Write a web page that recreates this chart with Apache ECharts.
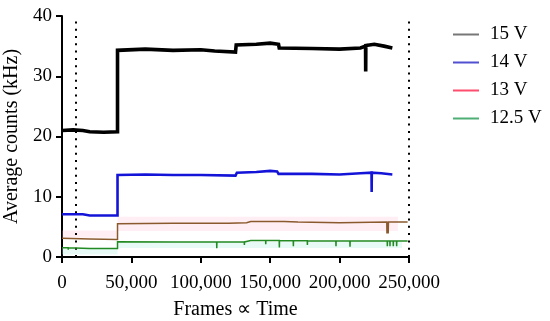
<!DOCTYPE html>
<html>
<head>
<meta charset="utf-8">
<script src="https://cdn.jsdelivr.net/npm/echarts@6/dist/echarts.min.js"></script>
<style>html,body{margin:0;padding:0;background:#fff;}#c{width:550px;height:321px;}</style>
</head>
<body>
<div id="c"></div>
<script>
// ---- data (x = frames, y = average counts in kHz) ----
var seriesNames = ['15 V', '14 V', '13 V', '12.5 V'];
var xTicks = [0, 50000, 100000, 150000, 200000, 250000];
var yTicks = [0, 10, 20, 30, 40];
var markerFrames = [10000, 250000];

var v15 = [[0,21.0],[8000,21.1],[15000,21.0],[20000,20.8],[30000,20.7],[40000,20.8],[40000,34.3],[60000,34.5],[80000,34.3],[100000,34.4],[110000,34.2],[125000,34.0],[125500,35.2],[140000,35.3],[150000,35.5],[156000,35.3],[156500,34.7],[180000,34.6],[200000,34.5],[215000,34.7],[218700,35.0],[218800,30.8],[218900,35.1],[225000,35.3],[232000,35.0],[238000,34.7]];
var v14 = [[0,7.1],[15000,7.1],[20000,6.9],[40000,6.9],[40000,13.6],[60000,13.7],[80000,13.6],[100000,13.6],[125000,13.5],[126000,14.0],[140000,14.1],[150000,14.3],[155000,14.2],[156000,13.8],[180000,13.8],[200000,13.7],[215000,13.9],[223000,14.0],[223100,10.8],[223200,14.0],[230000,13.9],[238000,13.7]];
var v13 = [[0,3.1],[20000,3.0],[40000,2.9],[40000,5.5],[80000,5.6],[120000,5.6],[133000,5.7],[136000,5.9],[160000,5.9],[170000,5.8],[200000,5.7],[234000,5.8],[234100,3.9],[234300,5.8],[234600,3.9],[234800,5.8],[235000,3.9],[235200,5.8],[249000,5.8]];
var v125 = [[0,1.55],[4400,1.55],[4500,1.2],[4600,1.55],[20000,1.4],[40000,1.4],[40000,2.55],[80000,2.5],[111400,2.5],[111500,1.45],[111600,2.5],[131300,2.5],[131400,2.0],[131500,2.5],[136000,2.75],[146700,2.75],[146800,2.1],[146900,2.75],[156500,2.75],[156600,1.6],[156700,2.75],[166600,2.7],[166700,1.8],[166800,2.7],[176700,2.7],[176800,2.0],[176900,2.7],[197300,2.65],[197400,1.8],[197500,2.65],[207400,2.65],[207500,1.7],[207600,2.65],[234300,2.65],[234400,1.8],[234500,2.65],[236200,2.65],[236300,1.8],[236400,2.65],[238600,2.65],[238700,1.8],[238800,2.65],[241000,2.65],[241100,1.8],[241200,2.65],[249000,2.65]];

// faint uncertainty bands: [xStart, xEnd, yLow, yHigh]
var band13 = [[0,40000,3.2,4.4],[40000,242000,4.3,6.7]];
var band125 = [[0,40000,0.4,1.5],[40000,245000,1.5,2.5]];

var lineColors = ['#000000', '#1414d8', '#8a5a2e', '#228a22'];
var legendColors = ['#777777', '#5050d0', '#ff4d6d', '#4fae74'];

function fmt(v){ return v.toString().replace(/\B(?=(\d{3})+(?!\d))/g, ','); }
function toArea(b){ return b.map(function(r){ return [{xAxis:r[0], yAxis:r[2]},{xAxis:r[1], yAxis:r[3]}]; }); }

var font = "'Liberation Serif', 'Times New Roman', serif";
var chart = echarts.init(document.getElementById('c'), null, {renderer:'canvas'});
var dataSets = [v15, v14, v13, v125];
var widths = [3.6, 2.6, 1.5, 1.5];

var series = dataSets.map(function(d, i){
  return {
    name: seriesNames[i], type:'line', data:d, showSymbol:false, symbol:'none',
    lineStyle:{color:lineColors[i], width:widths[i], join:'miter'}, itemStyle:{color:lineColors[i]},
    silent:true, animation:false, z: 10 - i
  };
});
series[2].markArea = {silent:true, itemStyle:{color:'rgba(255,190,210,0.25)'}, data: toArea(band13)};
series[3].markArea = {silent:true, itemStyle:{color:'rgba(180,240,225,0.3)'}, data: toArea(band125)};
series[0].markLine = {
  silent:true, symbol:['none','none'], label:{show:false},
  lineStyle:{color:'#000', width:2, type:[2,5.3]},
  data: markerFrames.map(function(f){ return {xAxis:f}; })
};

chart.setOption({
  animation:false,
  textStyle:{fontFamily:font},
  grid:{left:62, right:141, top:16, bottom:64, containLabel:false, outerBoundsMode:'none'},
  legend:{
    orient:'vertical', left:448, top:20, itemWidth:26, itemHeight:2, itemGap:9,
    icon:'rect',
    textStyle:{fontFamily:font, fontSize:19, color:'#000', padding:[0,0,0,6]},
    data: seriesNames.map(function(n,i){ return {name:n, itemStyle:{color:legendColors[i]}, textStyle:{fontFamily:font, fontSize:19, color:'#000'}}; })
  },
  xAxis:{
    type:'value', min:xTicks[0], max:xTicks[xTicks.length-1], interval:xTicks[1]-xTicks[0],
    name:'Frames \u221d Time', nameLocation:'middle', nameGap:43,
    nameTextStyle:{fontFamily:font, fontSize:20, color:'#000'},
    axisLine:{show:true, lineStyle:{color:'#000', width:2}},
    axisTick:{show:true, length:6, lineStyle:{color:'#000', width:2}},
    axisLabel:{fontFamily:font, fontSize:19, color:'#000', margin:17, formatter:fmt},
    splitLine:{show:false}
  },
  yAxis:{
    type:'value', min:yTicks[0], max:yTicks[yTicks.length-1], interval:yTicks[1]-yTicks[0],
    name:'Average counts (kHz)', nameLocation:'middle', nameGap:33,
    nameTextStyle:{fontFamily:font, fontSize:20, color:'#000'},
    axisLine:{show:true, lineStyle:{color:'#000', width:2}},
    axisTick:{show:true, length:6, lineStyle:{color:'#000', width:2}},
    axisLabel:{fontFamily:font, fontSize:19, color:'#000', margin:10},
    splitLine:{show:false}
  },
  series: series
});
</script>
</body>
</html>
